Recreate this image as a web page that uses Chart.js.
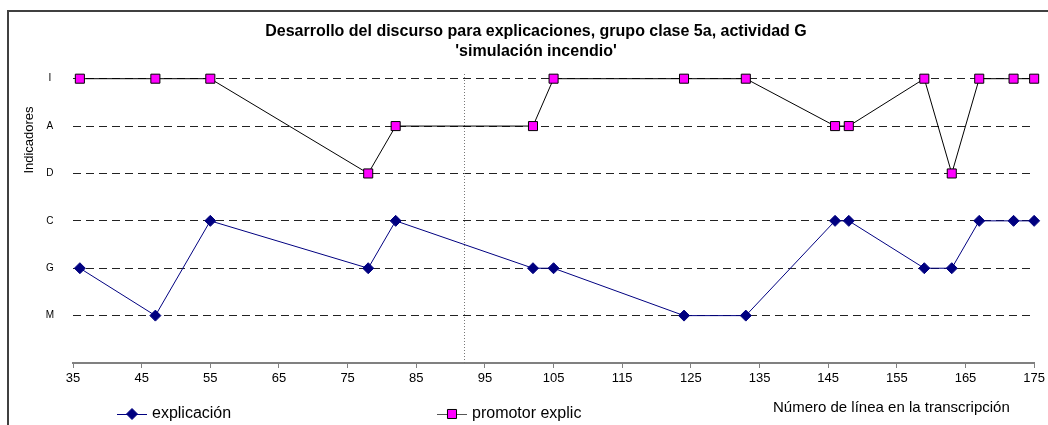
<!DOCTYPE html>
<html>
<head>
<meta charset="utf-8">
<script src="https://cdn.jsdelivr.net/npm/chart.js@4/dist/chart.umd.min.js"></script>
<style>
  html, body { margin: 0; padding: 0; background: #fff; }
  #wrap { position: relative; width: 1048px; height: 425px; }
</style>
</head>
<body>
<div id="wrap"><canvas id="discurso"></canvas></div>
<script>
// line numbers of the transcription where an indicator was coded
const lineNumbers = [36, 47, 55, 78, 82, 102, 105, 124, 133, 146, 148, 159, 163, 167, 172, 175];
// indicator levels, bottom to top (index = y value)
const indicatorLabels = ['', 'M', 'G', 'C', 'D', 'A', 'I'];
const explicacion = ['G', 'M', 'C', 'G', 'C', 'G', 'G', 'M', 'M', 'C', 'C', 'G', 'G', 'C', 'C', 'C'];
const promotorExplic = ['I', 'I', 'I', 'D', 'A', 'A', 'I', 'I', 'I', 'A', 'A', 'I', 'D', 'I', 'I', 'I'];
const xTicks = [35, 45, 55, 65, 75, 85, 95, 105, 115, 125, 135, 145, 155, 165, 175];
const yTicks = [1, 2, 3, 4, 5, 6];
const sessionBreak = 92;

const titleLines = ['Desarrollo del discurso para explicaciones, grupo clase 5a, actividad G', "'simulación incendio'"];
const FONT = '"Liberation Sans", Arial, sans-serif';

function toPoints(codes) {
  return lineNumbers.map((x, i) => ({ x: x, y: indicatorLabels.indexOf(codes[i]) }));
}

const series = [
  {
    label: 'explicación',
    data: toPoints(explicacion),
    borderColor: '#000080',
    borderWidth: 1,
    pointStyle: 'rectRot',
    pointRadius: 5.5,
    pointBackgroundColor: '#000080',
    pointBorderColor: '#000080',
    pointBorderWidth: 1,
    legendLine: '#000080',
  },
  {
    label: 'promotor explic',
    data: toPoints(promotorExplic),
    borderColor: '#000000',
    borderWidth: 1,
    pointStyle: 'rect',
    pointRadius: 6.4,
    pointBackgroundColor: '#ff00ff',
    pointBorderColor: '#000000',
    pointBorderWidth: 1,
    legendLine: '#555555',
  },
];

// titles, frame, dotted separator and legend are drawn by hand
const decor = {
  id: 'decor',
  beforeDatasetsDraw(chart) {
    const ctx = chart.ctx;
    const x = Math.round(chart.scales.x.getPixelForValue(sessionBreak)) + 0.5;
    ctx.save();
    ctx.strokeStyle = '#777';
    ctx.lineWidth = 1;
    ctx.setLineDash([1, 2]);
    ctx.beginPath();
    ctx.moveTo(x, 74);
    ctx.lineTo(x, chart.chartArea.bottom);
    ctx.stroke();
    ctx.restore();
  },
  afterDraw(chart) {
    const ctx = chart.ctx;
    ctx.save();

    // outer frame
    ctx.strokeStyle = '#404040';
    ctx.lineWidth = 2;
    ctx.beginPath();
    ctx.moveTo(8, 425);
    ctx.lineTo(8, 11);
    ctx.lineTo(1048, 11);
    ctx.stroke();

    // title
    ctx.fillStyle = '#000';
    ctx.textAlign = 'center';
    ctx.textBaseline = 'middle';
    ctx.font = 'bold 16px ' + FONT;
    ctx.fillText(titleLines[0], 536, 32);
    ctx.fillText(titleLines[1], 536, 52);

    // y axis title
    ctx.font = '13px ' + FONT;
    ctx.save();
    ctx.translate(29, 140);
    ctx.rotate(-Math.PI / 2);
    ctx.fillText('Indicadores', 0, 0);
    ctx.restore();

    // x axis title
    ctx.font = '15px ' + FONT;
    ctx.textAlign = 'left';
    ctx.fillText('Número de línea en la transcripción', 773, 408);

    // legend
    const legendX = [117, 437];
    series.forEach((s, i) => {
      const x0 = legendX[i], y = 414;
      ctx.strokeStyle = s.legendLine;
      ctx.lineWidth = 1;
      ctx.beginPath();
      ctx.moveTo(x0, y + 0.5);
      ctx.lineTo(x0 + 30, y + 0.5);
      ctx.stroke();
      ctx.fillStyle = s.pointBackgroundColor;
      ctx.strokeStyle = s.pointBorderColor;
      Chart.helpers.drawPoint(ctx, {
        pointStyle: s.pointStyle, radius: s.pointRadius, rotation: 0, borderWidth: 1
      }, x0 + 15, y);
      ctx.fillStyle = '#000';
      ctx.font = '16px ' + FONT;
      ctx.textAlign = 'left';
      ctx.fillText(s.label, x0 + 35, y);
    });
    ctx.restore();
  }
};

new Chart(document.getElementById('discurso').getContext('2d'), {
  type: 'line',
  data: {
    datasets: series.map(s => ({
      label: s.label,
      data: s.data,
      borderColor: s.borderColor,
      borderWidth: s.borderWidth,
      pointStyle: s.pointStyle,
      pointRadius: s.pointRadius,
      pointHoverRadius: s.pointRadius,
      pointBackgroundColor: s.pointBackgroundColor,
      pointBorderColor: s.pointBorderColor,
      pointBorderWidth: s.pointBorderWidth,
      fill: false,
      tension: 0,
      clip: false,
    })),
  },
  options: {
    responsive: true,
    maintainAspectRatio: false,
    animation: false,
    layout: { padding: { left: 8, top: 55, right: 10, bottom: 32 } },
    plugins: {
      legend: { display: false },
      title: { display: false },
      tooltip: { enabled: false },
    },
    scales: {
      x: {
        type: 'linear',
        min: 35,
        max: 175,
        afterBuildTicks: (scale) => { scale.ticks = xTicks.map(v => ({ value: v })); },
        afterFit: (scale) => { scale.height = 30; },
        grid: { drawOnChartArea: false, drawTicks: true, tickLength: 5, color: '#808080' },
        border: { color: '#808080', width: 2 },
        ticks: {
          color: '#000',
          font: { family: FONT, size: 13 },
          padding: 3,
          maxRotation: 0,
          autoSkip: false,
        },
      },
      y: {
        type: 'linear',
        min: 0,
        max: 6.5,
        afterBuildTicks: (scale) => { scale.ticks = yTicks.map(v => ({ value: v })); },
        afterFit: (scale) => { scale.width = 65; },
        grid: { color: '#222', lineWidth: 1, drawTicks: false },
        border: { display: false, dash: [8, 5] },
        ticks: {
          color: '#000',
          font: { family: FONT, size: 10 },
          crossAlign: 'center',
          padding: 19,
          callback: (v) => indicatorLabels[v] || '',
        },
      },
    },
  },
  plugins: [decor],
});
</script>
</body>
</html>
